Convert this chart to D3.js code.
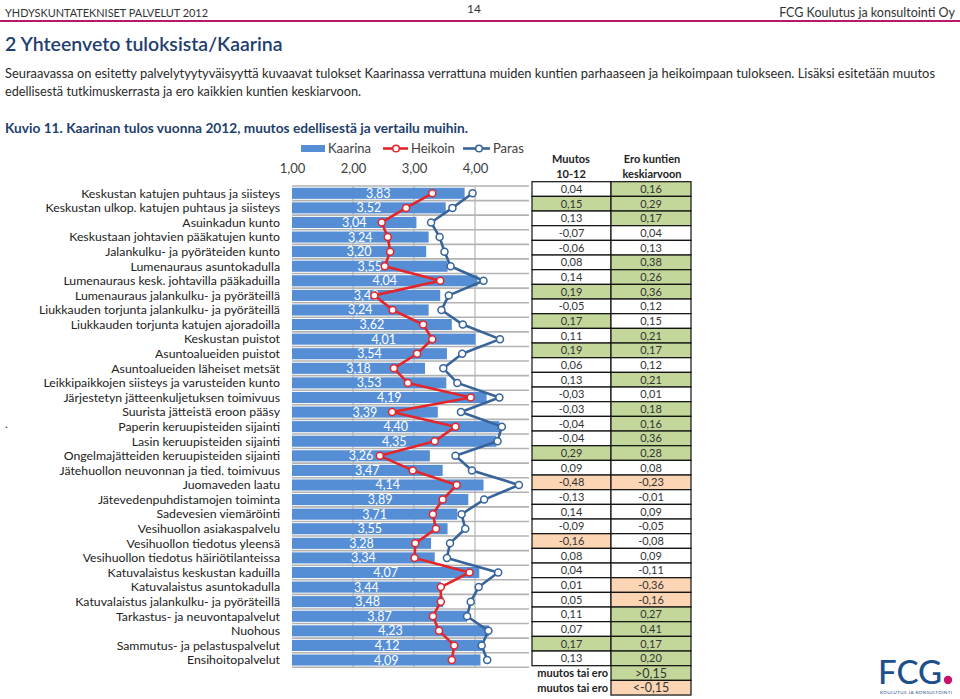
<!DOCTYPE html>
<html><head><meta charset="utf-8">
<script src="https://cdn.jsdelivr.net/npm/d3@7"></script>
<style>
body{margin:0;background:#fff;}
svg text{font-family:Lato,"Open Sans",sans-serif;}
</style></head>
<body><svg id="c" width="960" height="699"></svg>
<script>
const categories = [
"Keskustan katujen puhtaus ja siisteys",
"Keskustan ulkop. katujen puhtaus ja siisteys",
"Asuinkadun kunto",
"Keskustaan johtavien pääkatujen kunto",
"Jalankulku- ja pyöräteiden kunto",
"Lumenauraus asuntokadulla",
"Lumenauraus kesk. johtavilla pääkaduilla",
"Lumenauraus jalankulku- ja pyöräteillä",
"Liukkauden torjunta jalankulku- ja pyöräteillä",
"Liukkauden torjunta katujen ajoradoilla",
"Keskustan puistot",
"Asuntoalueiden puistot",
"Asuntoalueiden läheiset metsät",
"Leikkipaikkojen siisteys ja varusteiden kunto",
"Järjestetyn jätteenkuljetuksen toimivuus",
"Suurista jätteistä eroon pääsy",
"Paperin keruupisteiden sijainti",
"Lasin keruupisteiden sijainti",
"Ongelmajätteiden keruupisteiden sijainti",
"Jätehuollon neuvonnan ja tied. toimivuus",
"Juomaveden laatu",
"Jätevedenpuhdistamojen toiminta",
"Sadevesien viemäröinti",
"Vesihuollon asiakaspalvelu",
"Vesihuollon tiedotus yleensä",
"Vesihuollon tiedotus häiriötilanteissa",
"Katuvalaistus keskustan kaduilla",
"Katuvalaistus asuntokadulla",
"Katuvalaistus jalankulku- ja pyöräteillä",
"Tarkastus- ja neuvontapalvelut",
"Nuohous",
"Sammutus- ja pelastuspalvelut",
"Ensihoitopalvelut"];
const kaarina = [3.83,3.52,3.04,3.24,3.20,3.55,4.04,3.43,3.24,3.62,4.01,3.54,3.18,3.53,4.19,3.39,4.40,4.35,3.26,3.47,4.14,3.89,3.71,3.55,3.28,3.34,4.07,3.44,3.48,3.87,4.23,4.12,4.09];
const heikoin = [3.30,2.87,2.47,2.57,2.61,2.52,3.43,2.35,2.65,3.15,3.30,3.05,2.67,2.90,3.93,2.64,3.68,3.34,2.44,2.98,3.70,3.47,3.31,3.36,3.02,3.01,3.91,3.44,3.44,3.31,3.41,3.66,3.62];
const paras = [3.96,3.63,3.28,3.42,3.50,3.60,4.14,3.57,3.45,3.80,4.41,3.79,3.48,3.71,4.40,3.77,4.44,4.37,3.68,3.95,4.72,4.15,3.78,3.84,3.59,3.54,4.38,4.06,3.93,3.87,4.22,4.11,4.20];
const muutos = ["0,04","0,15","0,13","-0,07","-0,06","0,08","0,14","0,19","-0,05","0,17","0,11","0,19","0,06","0,13","-0,03","-0,03","-0,04","-0,04","0,29","0,09","-0,48","-0,13","0,14","-0,09","-0,16","0,08","0,04","0,01","0,05","0,11","0,07","0,17","0,13"];
const muutosMark = ["","g","","","","","","g","","g","","g","","","","","","","g","","o","","","","o","","","","","","","g",""];
const ero = ["0,16","0,29","0,17","0,04","0,13","0,38","0,26","0,36","0,12","0,15","0,21","0,17","0,12","0,21","0,01","0,18","0,16","0,36","0,28","0,08","-0,23","-0,01","0,09","-0,05","-0,08","0,09","-0,11","-0,36","-0,16","0,27","0,41","0,17","0,20"];
const eroMark = ["g","g","g","","","g","g","g","","","g","g","","g","","g","g","g","g","","o","","","","","","","o","o","g","g","g","g"];
const tickValues = [1,2,3,4];
const seriesNames = ["Kaarina","Heikoin","Paras"];

const svg = d3.select("#c");
const fmt = v => d3.format(".2f")(v).replace(".", ",");
const C = {bar:"#558ed5", red:"#e3262c", blue:"#37649a", green:"#c4d79b", orange:"#fcd5b4"};

// header
svg.append("text").attr("x",5).attr("y",17).attr("font-size",11.5).attr("fill","#333")
  .attr("textLength",203).attr("lengthAdjust","spacingAndGlyphs").text("YHDYSKUNTATEKNISET PALVELUT 2012");
svg.append("text").attr("x",474).attr("y",13).attr("font-size",12).attr("fill","#333").attr("text-anchor","middle").text("14");
svg.append("text").attr("x",955).attr("y",17).attr("font-size",12.5).attr("fill","#333").attr("text-anchor","end").text("FCG Koulutus ja konsultointi Oy");
svg.append("rect").attr("x",0).attr("y",20).attr("width",960).attr("height",2).attr("fill","#b8176e");
svg.append("text").attr("x",5).attr("y",51).attr("font-size",19.5).attr("font-weight",600).attr("fill","#1f3f6e").text("2 Yhteenveto tuloksista/Kaarina");
svg.append("text").attr("x",5).attr("y",78).attr("font-size",13).attr("fill","#2a2a2a")
  .attr("textLength",930).attr("lengthAdjust","spacingAndGlyphs")
  .text("Seuraavassa on esitetty palvelytyytyväisyyttä kuvaavat tulokset Kaarinassa verrattuna muiden kuntien parhaaseen ja heikoimpaan tulokseen. Lisäksi esitetään muutos");
svg.append("text").attr("x",5).attr("y",96).attr("font-size",13).attr("fill","#2a2a2a")
  .attr("textLength",356).attr("lengthAdjust","spacingAndGlyphs")
  .text("edellisestä tutkimuskerrasta ja ero kaikkien kuntien keskiarvoon.");
svg.append("text").attr("x",5).attr("y",133).attr("font-size",13).attr("font-weight",700).attr("fill","#1f3f6e")
  .attr("textLength",463).attr("lengthAdjust","spacingAndGlyphs")
  .text("Kuvio 11. Kaarinan tulos vuonna 2012, muutos edellisestä ja vertailu muihin.");
svg.append("text").attr("x",5).attr("y",428).attr("font-size",12).attr("fill","#333").text(".");

// scales
const x = d3.scaleLinear().domain([1,5]).range([292,536]);
const plotRight = 529;
const y = d3.scaleBand().domain(categories).range([186,667.3]).paddingInner(0.24).paddingOuter(0.12);
const yc = d => y(d) + y.bandwidth()/2;

// gridlines
const g = svg.append("g");
g.selectAll("line.v").data(tickValues.slice(1)).join("line")
  .attr("x1",d=>x(d)).attr("x2",d=>x(d)).attr("y1",186).attr("y2",667.3)
  .attr("stroke","#a6a6a6").attr("stroke-width",1);
const bounds = d3.range(categories.length+1).map(i => 186 + i*(667.3-186)/categories.length);
g.selectAll("line.h").data(bounds).join("line")
  .attr("x1",x(1)).attr("x2",plotRight).attr("y1",d=>d).attr("y2",d=>d)
  .attr("stroke","#b3b3b3").attr("stroke-width",1.6);

// axis labels at top
const ax = svg.append("g").attr("transform","translate(0,173)")
  .call(d3.axisTop(x).tickValues(tickValues).tickFormat(d=>fmt(d)).tickSize(0).tickPadding(0));
ax.select(".domain").remove();
ax.selectAll("text").attr("font-size",13).attr("fill","#404040").attr("font-family","Lato, sans-serif");

// category labels
svg.append("g").selectAll("text").data(categories).join("text")
  .attr("x",280).attr("y",d=>yc(d)+4.3).attr("text-anchor","end")
  .attr("font-size",12.3).attr("fill","#222").text(d=>d);

// bars
const rows = categories.map((c,i)=>({c, k:kaarina[i], h:heikoin[i], p:paras[i]}));
svg.append("g").selectAll("rect").data(rows).join("rect")
  .attr("x",x(1)).attr("y",d=>y(d.c)).attr("width",d=>x(d.k)-x(1)).attr("height",y.bandwidth())
  .attr("fill",C.bar);
svg.append("g").selectAll("text").data(rows).join("text")
  .attr("x",d=>(x(1)+x(d.k))/2).attr("y",d=>yc(d.c)+4.5).attr("text-anchor","middle")
  .attr("font-size",12.5).attr("fill","#fff").text(d=>fmt(d.k));

// lines
function drawLine(key,color){
  const line = d3.line().x(d=>x(d[key])).y(d=>yc(d.c));
  svg.append("path").datum(rows).attr("d",line).attr("fill","none").attr("stroke",color).attr("stroke-width",2.6).attr("stroke-linejoin","round");
  svg.append("g").selectAll("circle").data(rows).join("circle")
    .attr("cx",d=>x(d[key])).attr("cy",d=>yc(d.c)).attr("r",3.5)
    .attr("fill","#fff").attr("stroke",color).attr("stroke-width",1.5);
}
drawLine("h",C.red);
drawLine("p",C.blue);

// legend
const lg = svg.append("g").attr("font-size",13).attr("fill","#404040");
lg.append("rect").attr("x",301).attr("y",145).attr("width",24).attr("height",7).attr("fill",C.bar);
lg.append("text").attr("x",328).attr("y",153).attr("fill","#404040").text(seriesNames[0]);
lg.append("line").attr("x1",383).attr("x2",408).attr("y1",148.5).attr("y2",148.5).attr("stroke",C.red).attr("stroke-width",2.6);
lg.append("circle").attr("cx",396).attr("cy",148.5).attr("r",3.3).attr("fill","#fff").attr("stroke",C.red).attr("stroke-width",1.5);
lg.append("text").attr("x",411).attr("y",153).attr("fill","#404040").text(seriesNames[1]);
lg.append("line").attr("x1",463).attr("x2",490).attr("y1",148.5).attr("y2",148.5).attr("stroke",C.blue).attr("stroke-width",2.6);
lg.append("circle").attr("cx",479).attr("cy",148.5).attr("r",3.3).attr("fill","#fff").attr("stroke",C.blue).attr("stroke-width",1.5);
lg.append("text").attr("x",493).attr("y",153).attr("fill","#404040").text(seriesNames[2]);

// table
const tx0=532, tx1=611, tx2=691, tTop=181.7, rH=(665.7-181.7)/33;
const fillOf = m => m==="g"?C.green:(m==="o"?C.orange:"#fff");
const th = svg.append("g").attr("font-size",11).attr("font-weight",700).attr("fill","#222").attr("text-anchor","middle");
th.append("text").attr("x",571).attr("y",163).text("Muutos");
th.append("text").attr("x",571).attr("y",177.5).text("10-12");
th.append("text").attr("x",652).attr("y",163).text("Ero kuntien");
th.append("text").attr("x",652).attr("y",177.5).text("keskiarvoon");
const tb = svg.append("g");
muutos.forEach((m,i)=>{
  const ty = tTop + i*rH;
  tb.append("rect").attr("x",tx0).attr("y",ty).attr("width",tx1-tx0).attr("height",rH).attr("fill",fillOf(muutosMark[i])).attr("stroke","#111").attr("stroke-width",1.2);
  tb.append("rect").attr("x",tx1).attr("y",ty).attr("width",tx2-tx1).attr("height",rH).attr("fill",fillOf(eroMark[i])).attr("stroke","#111").attr("stroke-width",1.2);
  tb.append("text").attr("x",(tx0+tx1)/2).attr("y",ty+rH/2+4).attr("text-anchor","middle").attr("font-size",11).attr("fill","#333").text(m);
  tb.append("text").attr("x",(tx1+tx2)/2).attr("y",ty+rH/2+4).attr("text-anchor","middle").attr("font-size",11).attr("fill","#333").text(ero[i]);
});
const legRows = [{t:">0,15",f:C.green},{t:"<-0,15",f:C.orange}];
legRows.forEach((r,i)=>{
  const ty = 665.7 + i*rH;
  tb.append("rect").attr("x",tx1).attr("y",ty).attr("width",tx2-tx1).attr("height",rH).attr("fill",r.f).attr("stroke","#111").attr("stroke-width",1.2);
  tb.append("text").attr("x",(tx1+tx2)/2).attr("y",ty+rH/2+4.5).attr("text-anchor","middle").attr("font-size",12.5).attr("fill","#333").text(r.t);
  tb.append("text").attr("x",608).attr("y",ty+rH/2+4).attr("text-anchor","end").attr("font-size",11).attr("font-weight",700).attr("fill","#222").text("muutos tai ero");
});

// logo
const lo = svg.append("g");
lo.append("text").attr("x",878).attr("y",684).attr("font-size",33).attr("font-weight",500).attr("fill","#1d4f8c").attr("font-family","'Liberation Sans',sans-serif").attr("textLength",64).text("FCG");
lo.append("circle").attr("cx",948).attr("cy",680).attr("r",4.2).attr("fill","#c8106d");
lo.append("text").attr("x",880).attr("y",694).attr("font-size",4.5).attr("fill","#1d4f8c").attr("textLength",72).text("KOULUTUS JA KONSULTOINTI");
</script></body></html>
